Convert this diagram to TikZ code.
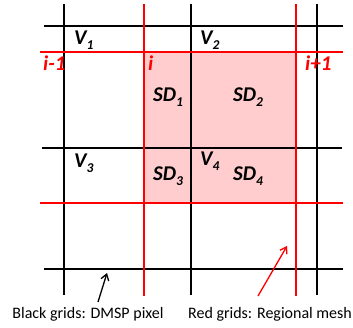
\documentclass[tikz,border=0pt]{standalone}
\usepackage{fontspec}
\setmainfont{Carlito}
\usetikzlibrary{arrows.meta}
\definecolor{meshred}{RGB}{255,0,0}
\definecolor{meshpink}{RGB}{255,205,205}
\newcommand\sbsc[1]{\raisebox{-0.45ex}{\fontsize{13.5}{13.5}\selectfont #1}}
\tikzset{
  blk/.style={line width=1.6pt, black},
  redl/.style={line width=1.6pt, meshred},
  lab/.style={font=\fontsize{21}{21}\selectfont\bfseries\itshape, anchor=base west, inner sep=0pt},
  rlab/.style={lab, text=meshred},
  captxt/.style={font=\fontsize{16}{16}\selectfont, anchor=base, inner sep=0pt},
  arr/.style={line width=1.3pt, -{Straight Barb[length=6pt,width=8pt]}}
}
\begin{document}
\begin{tikzpicture}[x=1pt,y=-1pt]
\useasboundingbox (0,0) rectangle (353,328);
% pink region
\fill[meshpink] (144,52) rectangle (296,203);
% black grid
\draw[blk] (64,4) -- (64,295);
\draw[blk] (191,4) -- (191,295);
\draw[blk] (317,4) -- (317,295);
\draw[blk] (44,26) -- (343,26);
\draw[blk] (42,148) -- (342,148);
\draw[blk] (44,269) -- (343,269);
% red grid
\draw[redl] (144,4) -- (144,296);
\draw[redl] (296,4) -- (296,296);
\draw[redl] (40,52) -- (343,52);
\draw[redl] (40,203) -- (343,203);
% labels
\node[lab] (v1) at (74,45) {V\sbsc{1}};
\node[lab] (v2) at (200,45) {V\sbsc{2}};
\node[lab] (v3) at (74,168) {V\sbsc{3}};
\node[lab] (v4) at (200,166) {V\sbsc{4}};
\node[rlab] (im1) at (43,71) {i-1};
\node[rlab] (ii) at (148,71) {i};
\node[rlab] (ip1) at (305,71) {i+1};
\node[lab] (sd1) at (153,102) {SD\sbsc{1}};
\node[lab] (sd2) at (233,102) {SD\sbsc{2}};
\node[lab] (sd3) at (153,181) {SD\sbsc{3}};
\node[lab] (sd4) at (233,181) {SD\sbsc{4}};
% captions
\node[captxt] (bcap) at (88,319) {Black grids: DMSP pixel};
\node[captxt] (rcap) at (270,319) {Red grids: Regional mesh};
% arrows
\coordinate (btail) at (98,302);
\coordinate (btip) at (107,273);
\coordinate (rtail) at (258,296);
\coordinate (rtip) at (287,246);
\draw[arr, black] (btail) -- (btip);
\draw[arr, meshred] (rtail) -- (rtip);
\end{tikzpicture}
\end{document}
